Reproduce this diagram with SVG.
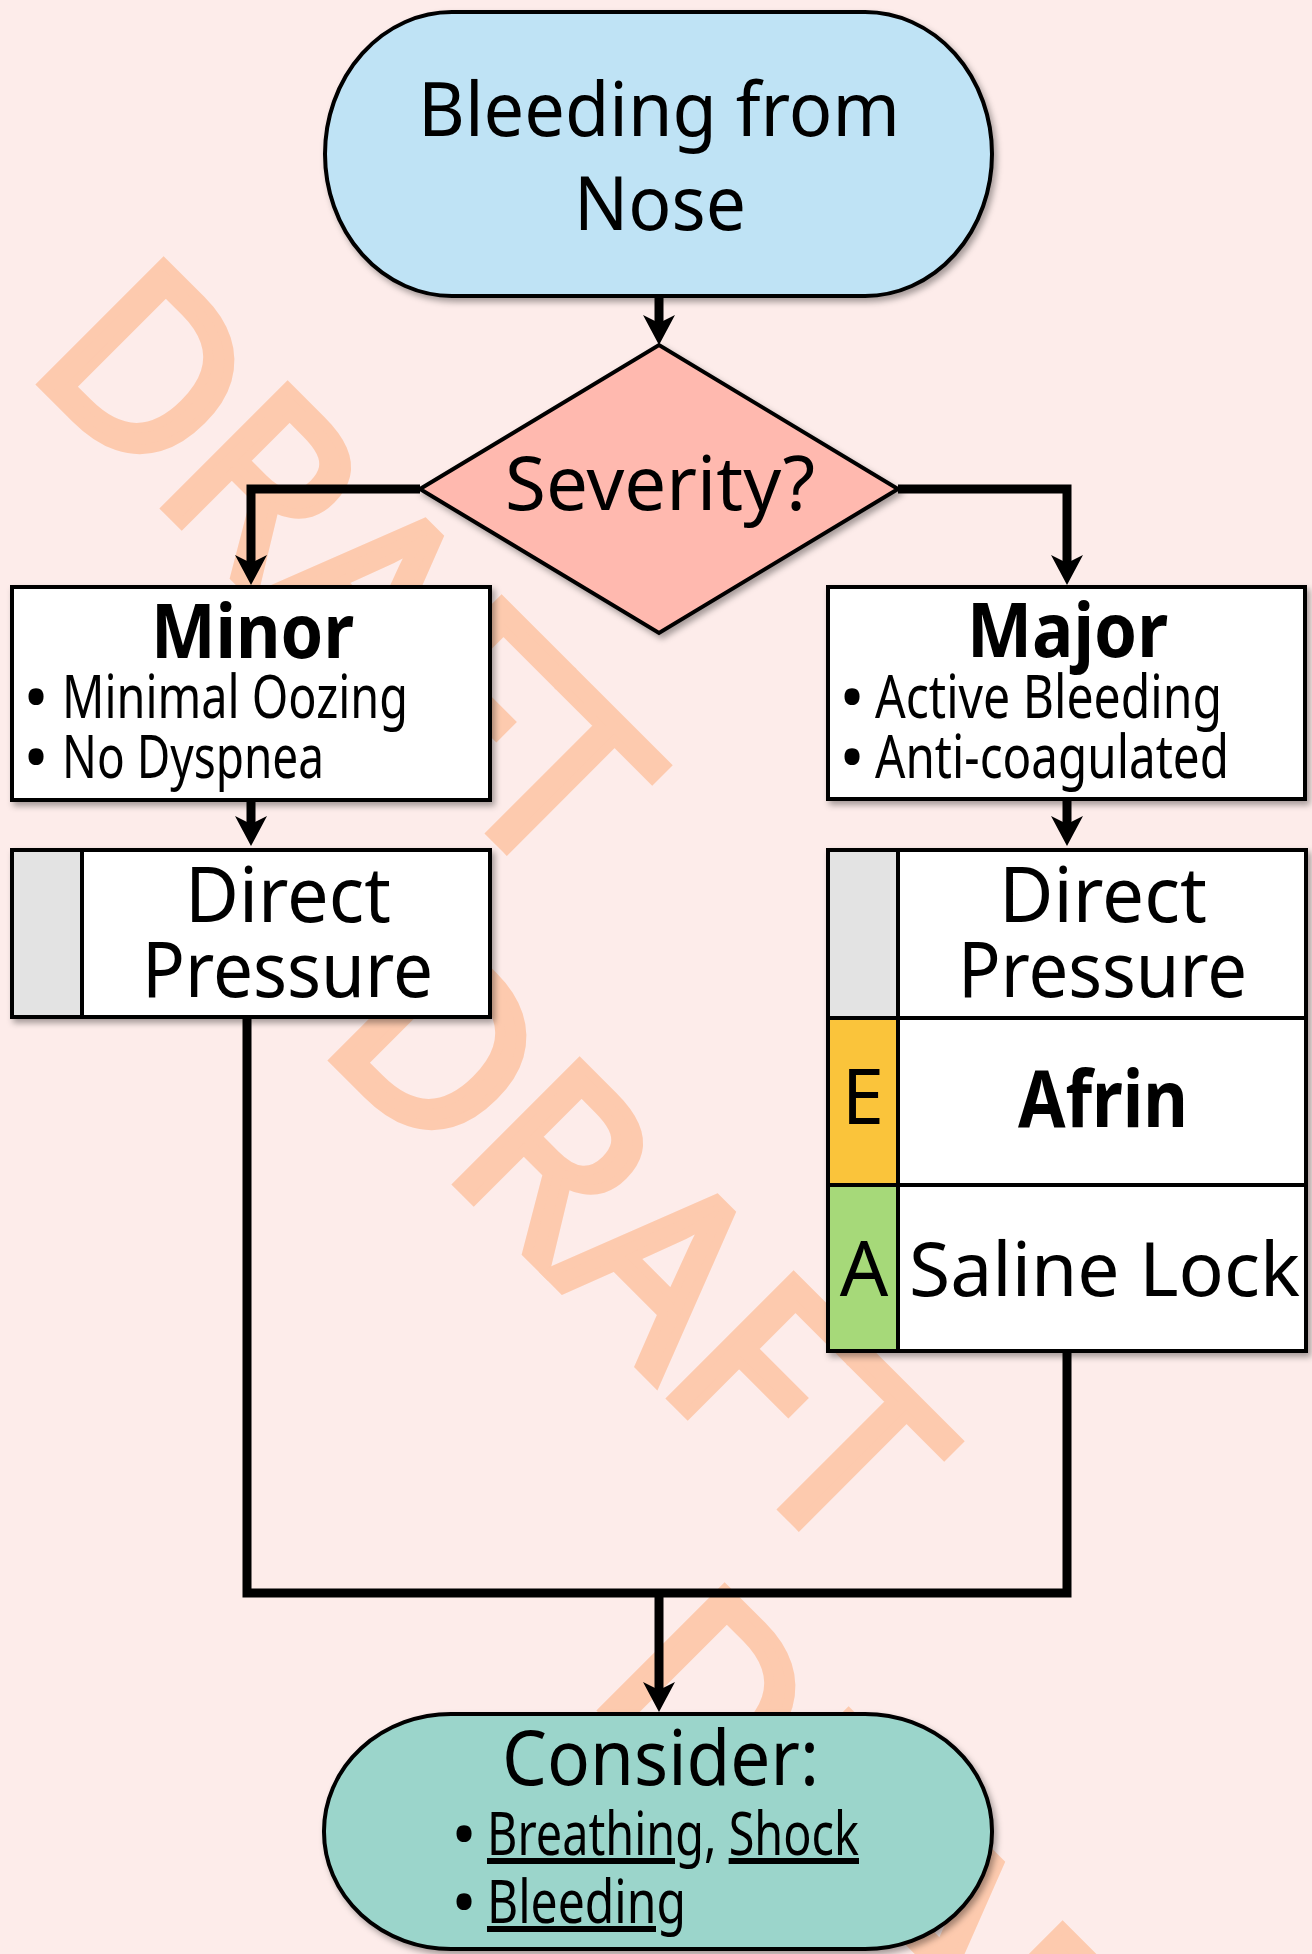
<svg xmlns="http://www.w3.org/2000/svg" width="1312" height="1954" viewBox="0 0 1312 1954">
<defs>
<filter id="sh" x="-10%" y="-10%" width="125%" height="130%">
<feDropShadow dx="3" dy="4" stdDeviation="3" flood-color="#000" flood-opacity="0.35"/>
</filter>
<marker id="ah" viewBox="-31 -17 32 34" refX="-22" refY="0" markerWidth="32" markerHeight="34" markerUnits="userSpaceOnUse" orient="auto">
<polygon points="0,0 -30,-16 -22,0 -30,16" fill="#000"/>
</marker>
<style>
.wm{font-family:"Noto Sans","Open Sans",sans-serif;font-size:240px;fill:#FDCAAE;stroke:#FDCAAE;stroke-width:10;stroke-linejoin:miter}
.nd{stroke:#000;stroke-width:4}
.t{font-family:"Noto Sans","Open Sans",sans-serif;fill:#000}
.big{font-size:75px}
.sm{font-size:60px}
.bl{font-size:68px;text-anchor:middle}
.b{font-weight:bold}
.u{text-decoration:underline}
.cn{fill:none;stroke:#000;stroke-width:9;stroke-linejoin:miter}
</style>
</defs>
<rect x="0" y="0" width="1312" height="1954" fill="#FDECEA"/>
<g id="watermark">
<text class="wm" transform="translate(26,368) rotate(45)">DRAFT</text>
<text class="wm" transform="translate(318,1044) rotate(45)">DRAFT</text>
<text class="wm" transform="translate(587,1694) rotate(45)">DRAFT</text>
</g>
<g id="connectors">
<path class="cn" d="M659,297 V323" marker-end="url(#ah)"/>
<path class="cn" d="M420,489 H251 V563" marker-end="url(#ah)"/>
<path class="cn" d="M898,489 H1067 V563" marker-end="url(#ah)"/>
<path class="cn" d="M251,802 V824" marker-end="url(#ah)"/>
<path class="cn" d="M1067,801 V824" marker-end="url(#ah)"/>
<path class="cn" d="M247,1019 V1593 H1067 V1353"/>
<path class="cn" d="M659,1593 V1690" marker-end="url(#ah)"/>
</g>
<g id="start">
<rect class="nd" x="325" y="12" width="667" height="284" rx="127" ry="142" fill="#BFE3F5" filter="url(#sh)"/>
<text class="t big" x="418" y="136" textLength="482" lengthAdjust="spacingAndGlyphs">Bleeding from</text>
<text class="t big" x="574" y="230" textLength="172" lengthAdjust="spacingAndGlyphs">Nose</text>
</g>
<g id="severity">
<polygon class="nd" points="420,489 659,345 898,489 659,633" fill="#FFB9AF" filter="url(#sh)"/>
<text class="t big" x="505" y="510" textLength="310" lengthAdjust="spacingAndGlyphs">Severity?</text>
</g>
<g id="minor">
<rect class="nd" x="12" y="587" width="478" height="213" fill="#FFFFFF" filter="url(#sh)"/>
<text class="t b" font-size="76" x="151" y="658" textLength="203" lengthAdjust="spacingAndGlyphs">Minor</text>
<text class="t bl" x="36" y="721">•</text>
<text class="t sm" x="62" y="718" textLength="346" lengthAdjust="spacingAndGlyphs">Minimal Oozing</text>
<text class="t bl" x="36" y="781">•</text>
<text class="t sm" x="62" y="778" textLength="262" lengthAdjust="spacingAndGlyphs">No Dyspnea</text>
</g>
<g id="major">
<rect class="nd" x="828" y="587" width="477" height="212" fill="#FFFFFF" filter="url(#sh)"/>
<text class="t b" font-size="76" x="967" y="657" textLength="201" lengthAdjust="spacingAndGlyphs">Major</text>
<text class="t bl" x="852" y="721">•</text>
<text class="t sm" x="875" y="718" textLength="347" lengthAdjust="spacingAndGlyphs">Active Bleeding</text>
<text class="t bl" x="852" y="781">•</text>
<text class="t sm" x="875" y="778" textLength="354" lengthAdjust="spacingAndGlyphs">Anti-coagulated</text>
</g>
<g id="pressure-left">
<rect class="nd" x="12" y="850" width="478" height="167" fill="#FFFFFF" filter="url(#sh)"/>
<rect x="14" y="852" width="68" height="163" fill="#E3E3E3"/>
<line class="nd" x1="82" y1="850" x2="82" y2="1017"/>
<text class="t" font-size="76" x="185" y="922" textLength="206" lengthAdjust="spacingAndGlyphs">Direct</text>
<text class="t" font-size="76" x="142" y="997" textLength="291" lengthAdjust="spacingAndGlyphs">Pressure</text>
</g>
<g id="treatment-right">
<rect class="nd" x="828" y="850" width="478" height="501" fill="#FFFFFF" filter="url(#sh)"/>
<rect x="830" y="852" width="68" height="166" fill="#E3E3E3"/>
<rect x="830" y="1018" width="68" height="167" fill="#FAC43B"/>
<rect x="830" y="1185" width="68" height="164" fill="#A6D979"/>
<line class="nd" x1="898" y1="850" x2="898" y2="1351"/>
<line class="nd" x1="828" y1="1018" x2="1306" y2="1018"/>
<line class="nd" x1="828" y1="1185" x2="1306" y2="1185"/>
<text class="t" font-size="76" x="999" y="922" textLength="208" lengthAdjust="spacingAndGlyphs">Direct</text>
<text class="t" font-size="76" x="958" y="997" textLength="289" lengthAdjust="spacingAndGlyphs">Pressure</text>
<text class="t" font-size="76" x="863" y="1124" text-anchor="middle">E</text>
<text class="t b" font-size="78" x="1018" y="1127" textLength="170" lengthAdjust="spacingAndGlyphs">Afrin</text>
<text class="t" font-size="76" x="864" y="1296" text-anchor="middle">A</text>
<text class="t big" x="909" y="1296" textLength="391" lengthAdjust="spacingAndGlyphs">Saline Lock</text>
</g>
<g id="consider">
<rect class="nd" x="324" y="1714" width="668" height="235" rx="127" ry="117" fill="#9BD5CB" filter="url(#sh)"/>
<text class="t" font-size="76" x="502" y="1785" textLength="317" lengthAdjust="spacingAndGlyphs">Consider:</text>
<text class="t bl" x="464" y="1858">•</text>
<text class="t sm" x="487" y="1855" textLength="372" lengthAdjust="spacingAndGlyphs"><tspan class="u">Breathing</tspan>, <tspan class="u">Shock</tspan></text>
<text class="t bl" x="464" y="1926">•</text>
<text class="t sm" x="487" y="1923" textLength="199" lengthAdjust="spacingAndGlyphs"><tspan class="u">Bleeding</tspan></text>
</g>
</svg>
